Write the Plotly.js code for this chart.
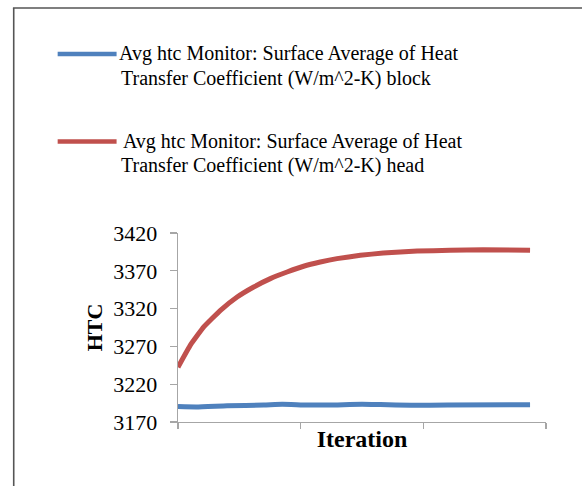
<!DOCTYPE html>
<html>
<head>
<meta charset="utf-8">
<script src="https://cdn.plot.ly/plotly-3.0.1.min.js"></script>
<style>
html,body{margin:0;padding:0;background:#fff;}
#chart{width:582px;height:486px;}
</style>
</head>
<body>
<div id="chart"></div>
<script>
// ---- data ----
var blockIter = [0, 150, 400, 700, 850, 1050, 1300, 1500, 1650, 1900, 2200, 2870];
var blockHTC  = [3190.5, 3190.0, 3191.5, 3192.5, 3193.5, 3192.5, 3192.5, 3193.5, 3193.0, 3192.0, 3192.5, 3192.8];

var headIter = [0, 102, 210, 346, 482, 617, 753, 889, 1024, 1160, 1296, 1486, 1673, 1950, 2218, 2487, 2870];
var headHTC  = [3242.5, 3272.0, 3295.7, 3317.7, 3335.3, 3348.6, 3359.7, 3368.4, 3376.0, 3381.6, 3386.1, 3390.5, 3393.5, 3396.2, 3397.1, 3398.0, 3397.1];

var seriesNames = [
  "Avg htc Monitor: Surface Average of Heat Transfer Coefficient (W/m^2-K) block",
  "Avg htc Monitor: Surface Average of Heat Transfer Coefficient (W/m^2-K) head"
];
var legendLines = [
  ["Avg htc Monitor: Surface Average of Heat", "Transfer Coefficient (W/m^2-K) block"],
  [" Avg htc Monitor: Surface Average of Heat", "Transfer Coefficient (W/m^2-K) head"]
];
var colors = ["#4F81BD", "#C0504D"];
var xTitle = "Iteration";
var yTitle = "HTC";
var yTickVals = [3170, 3220, 3270, 3320, 3370, 3420];
var xTickVals = [0, 1000, 2000, 3000];

// ---- layout helpers ----
var W = 582, H = 486;
var M = {l: 177.5, r: 36, t: 232.7, b: 64};
var PW = W - M.l - M.r, PH = H - M.t - M.b;
function px(x){ return (x - M.l) / PW; }
function py(y){ return 1 - (y - M.t) / PH; }

var FONT = "'Liberation Serif', 'Times New Roman', serif";

var traces = [
  {x: blockIter, y: blockHTC, name: seriesNames[0], mode: "lines",
   line: {color: colors[0], width: 5, shape: "spline", smoothing: 0.4}},
  {x: headIter, y: headHTC, name: seriesNames[1], mode: "lines",
   line: {color: colors[1], width: 5, shape: "spline", smoothing: 0.3}}
];

var legY = [[53.3, 77.5], [141, 165.2]];
var legTextX = [[116, 118], [116, 118]];
var shapes = [
  // frame
  {type: "line", xref: "paper", yref: "paper", x0: px(13), x1: px(13), y0: py(7.3), y1: py(490),
   line: {color: "#555555", width: 1.6}},
  {type: "line", xref: "paper", yref: "paper", x0: px(12.2), x1: px(590), y0: py(7.3), y1: py(7.3),
   line: {color: "#555555", width: 1.6}}
];
var annotations = [];
for (var i = 0; i < 2; i++) {
  shapes.push({type: "line", xref: "paper", yref: "paper",
    x0: px(57), x1: px(116), y0: py(legY[i][0]), y1: py(legY[i][0]),
    line: {color: colors[i], width: 4.5}});
  for (var j = 0; j < 2; j++) {
    annotations.push({xref: "paper", yref: "paper", x: px(legTextX[i][j]), y: py(legY[i][j]),
      xanchor: "left", yanchor: "middle", showarrow: false, text: legendLines[i][j],
      font: {family: FONT, size: 20, color: "#000"}});
  }
}

var layout = {
  width: W, height: H,
  margin: M,
  paper_bgcolor: "#fff", plot_bgcolor: "#fff",
  showlegend: false,
  font: {family: FONT, color: "#000"},
  xaxis: {
    range: [0, 3000], fixedrange: true,
    showline: true, linecolor: "#a6a6a6", linewidth: 1.3,
    ticks: "outside", ticklen: 6, tickcolor: "#a6a6a6", tickwidth: 1.3,
    tickvals: xTickVals, showticklabels: false,
    showgrid: false, zeroline: false, automargin: false,
    title: {text: "<b>" + xTitle + "</b>", font: {family: FONT, size: 24, color: "#000"}, standoff: 2}
  },
  yaxis: {
    range: [3170, 3420], fixedrange: true,
    showline: true, linecolor: "#a6a6a6", linewidth: 1.3,
    ticks: "outside", ticklen: 7, tickcolor: "#a6a6a6", tickwidth: 1.3,
    tickvals: yTickVals, ticktext: yTickVals.map(String),
    tickfont: {family: FONT, size: 22, color: "#000"},
    ticklabelstandoff: 8,
    showgrid: false, zeroline: false, automargin: false,
    title: {text: "<b>" + yTitle + "</b>", font: {family: FONT, size: 22, color: "#000"}, standoff: 4}
  },
  shapes: shapes,
  annotations: annotations
};

Plotly.newPlot("chart", traces, layout, {staticPlot: true, displayModeBar: false});
</script>
</body>
</html>
